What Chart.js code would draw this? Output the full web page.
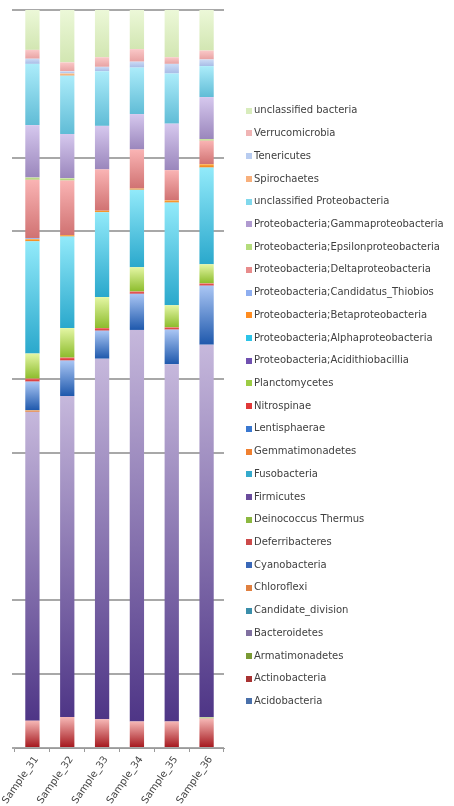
<!DOCTYPE html>
<html>
<head>
<meta charset="utf-8">
<script src="https://cdn.jsdelivr.net/npm/chart.js@4/dist/chart.umd.min.js"></script>
<style>
  html, body { margin: 0; padding: 0; background: #fff; overflow: hidden; }
  #wrap { position: relative; width: 454px; height: 806px; }
  canvas { display: block; }
  #legend {
    position: absolute; left: 246px; top: 99.4px; margin: 0; padding: 0; list-style: none;
    font: 10px 'DejaVu Sans', sans-serif; color: #404040;
  }
  #legend li { height: 22.73px; line-height: 22.73px; white-space: nowrap; display: flex; align-items: center; }
  #legend .sw { display: inline-block; width: 6px; height: 6px; margin-right: 2px; flex: none; }
</style>
</head>
<body>
<div id="wrap">
  <canvas id="c" width="454" height="806"></canvas>
  <ul id="legend"></ul>
</div>
<script>
// Samples on the x axis
const samples = ['Sample_31', 'Sample_32', 'Sample_33', 'Sample_34', 'Sample_35', 'Sample_36'];

// Relative abundance of each taxon (% of reads), one value per sample
const acidobacteria              = [0, 0, 0, 0, 0, 0];
const actinobacteria             = [3.7, 4.2, 3.9, 3.6, 3.6, 4.0];
const armatimonadetes            = [0, 0, 0, 0, 0, 0];
const bacteroidetes              = [0, 0, 0, 0, 0, 0];
const candidateDivision          = [0, 0, 0, 0, 0, 0];
const chloroflexi                = [0, 0, 0, 0, 0, 0];
const cyanobacteria              = [0, 0, 0, 0, 0, 0];
const deferribacteres            = [0, 0, 0, 0, 0, 0];
const deinococcusThermus         = [0, 0, 0, 0, 0, 0.15];
const firmicutes                 = [41.85, 43.5, 48.85, 53.05, 48.4, 50.5];
const fusobacteria               = [0, 0, 0, 0, 0, 0];
const gemmatimonadetes           = [0.2, 0, 0, 0, 0, 0];
const lentisphaerae              = [3.9, 4.8, 3.8, 4.9, 4.7, 8.0];
const nitrospinae                = [0.4, 0.4, 0.35, 0.3, 0.3, 0.3];
const planctomycetes             = [3.4, 4.0, 4.2, 3.3, 3.0, 2.6];
const acidithiobacillia          = [0, 0, 0, 0, 0, 0];
const alphaproteobacteria        = [15.2, 12.4, 11.5, 10.5, 13.9, 13.1];
const betaproteobacteria         = [0.3, 0.2, 0.2, 0.15, 0.3, 0.45];
const candidatusThiobios         = [0.15, 0, 0, 0, 0, 0];
const deltaproteobacteria        = [7.9, 7.4, 5.6, 5.3, 4.1, 3.2];
const epsilonproteobacteria      = [0.3, 0.3, 0, 0, 0, 0.2];
const gammaproteobacteria        = [7.1, 6.0, 5.9, 4.8, 6.3, 5.7];
const unclassifiedProteobacteria = [8.3, 7.9, 7.4, 6.3, 6.8, 4.2];
const spirochaetes               = [0, 0.3, 0, 0, 0, 0];
const tenericutes                = [0.7, 0.3, 0.6, 0.8, 1.3, 0.9];
const verrucomicrobia            = [1.2, 1.2, 1.3, 1.7, 0.9, 1.2];
const unclassifiedBacteria       = [5.4, 7.1, 6.4, 5.3, 6.4, 5.5];

// Y gridlines that are not drawn (percent values)
const hiddenGridValues = [30, 60, 90];

// Fill shades per taxon: [top of segment, bottom of segment, legend swatch]
const shades = {
  'Acidobacteria':                          ['#8aa8d8', '#2e5592', '#4a70aa'],
  'Actinobacteria':                         ['#f6b8b6', '#a3141a', '#a83232'],
  'Armatimonadetes':                        ['#b8d080', '#6a8a22', '#7a9a34'],
  'Bacteroidetes':                          ['#b8a8d0', '#665488', '#8070a0'],
  'Candidate_division':                     ['#70c0d8', '#1e7c98', '#3a8eaa'],
  'Chloroflexi':                            ['#f8b880', '#c86020', '#e08040'],
  'Cyanobacteria':                          ['#8eb0ec', '#2050a0', '#3a68b8'],
  'Deferribacteres':                        ['#f0a0a0', '#b03030', '#cc4a4a'],
  'Deinococcus Thermus':                    ['#c4e08c', '#78a82a', '#8cb840'],
  'Firmicutes':                             ['#c6b8dc', '#4e3586', '#6a4c9c'],
  'Fusobacteria':                           ['#80dcf0', '#1c94b8', '#34aacc'],
  'Gemmatimonadetes':                       ['#ffb060', '#e86c10', '#f08030'],
  'Lentisphaerae':                          ['#aac6f4', '#1e58ac', '#3a78d0'],
  'Nitrospinae':                            ['#f47070', '#d02828', '#e03838'],
  'Planctomycetes':                         ['#e4f6a4', '#8cbc2c', '#9ccc44'],
  'Proteobacteria;Acidithiobacillia':       ['#a888d0', '#5c3c9c', '#7050b0'],
  'Proteobacteria;Alphaproteobacteria':     ['#92eafa', '#2aa8cc', '#2cc4e8'],
  'Proteobacteria;Betaproteobacteria':      ['#ffb048', '#f07c10', '#ff8c20'],
  'Proteobacteria;Candidatus_Thiobios':     ['#b4caf4', '#7e9ee0', '#8eaef0'],
  'Proteobacteria;Deltaproteobacteria':     ['#fab4b4', '#d07272', '#e88c8c'],
  'Proteobacteria;Epsilonproteobacteria':   ['#cce89c', '#a4cc6a', '#b4dc7c'],
  'Proteobacteria;Gammaproteobacteria':     ['#d6c8ee', '#9a86bc', '#b09ad0'],
  'unclassified Proteobacteria':            ['#acecfa', '#60bcd6', '#80d8ec'],
  'Spirochaetes':                           ['#fcc898', '#f0a060', '#f8b07c'],
  'Tenericutes':                            ['#ccdcf6', '#a8bce6', '#b8ccf0'],
  'Verrucomicrobia':                        ['#fac8c8', '#e8a2a2', '#f0b4b4'],
  'unclassified bacteria':                  ['#ecf8d8', '#d2e6b2', '#d8ecbc']
};

// Stack order, bottom to top
const taxa = [
  ['Acidobacteria', acidobacteria],
  ['Actinobacteria', actinobacteria],
  ['Armatimonadetes', armatimonadetes],
  ['Bacteroidetes', bacteroidetes],
  ['Candidate_division', candidateDivision],
  ['Chloroflexi', chloroflexi],
  ['Cyanobacteria', cyanobacteria],
  ['Deferribacteres', deferribacteres],
  ['Deinococcus Thermus', deinococcusThermus],
  ['Firmicutes', firmicutes],
  ['Fusobacteria', fusobacteria],
  ['Gemmatimonadetes', gemmatimonadetes],
  ['Lentisphaerae', lentisphaerae],
  ['Nitrospinae', nitrospinae],
  ['Planctomycetes', planctomycetes],
  ['Proteobacteria;Acidithiobacillia', acidithiobacillia],
  ['Proteobacteria;Alphaproteobacteria', alphaproteobacteria],
  ['Proteobacteria;Betaproteobacteria', betaproteobacteria],
  ['Proteobacteria;Candidatus_Thiobios', candidatusThiobios],
  ['Proteobacteria;Deltaproteobacteria', deltaproteobacteria],
  ['Proteobacteria;Epsilonproteobacteria', epsilonproteobacteria],
  ['Proteobacteria;Gammaproteobacteria', gammaproteobacteria],
  ['unclassified Proteobacteria', unclassifiedProteobacteria],
  ['Spirochaetes', spirochaetes],
  ['Tenericutes', tenericutes],
  ['Verrucomicrobia', verrucomicrobia],
  ['unclassified bacteria', unclassifiedBacteria]
];

// Vertical gradient across each stacked segment, light at the top, deep at the bottom
function segmentFill(ctx) {
  const chart = ctx.chart;
  const ds = chart.data.datasets[ctx.datasetIndex];
  const [light, dark, swatch] = shades[ds.label];
  if (ctx.type !== 'data') return swatch;
  const y = chart.scales.y;
  if (!y) return swatch;
  let base = 0;
  for (let k = 0; k < ctx.datasetIndex; k++) base += chart.data.datasets[k].data[ctx.dataIndex];
  const v = ds.data[ctx.dataIndex];
  const top = y.getPixelForValue(base + v);
  const bottom = y.getPixelForValue(base);
  if (!isFinite(top) || !isFinite(bottom) || bottom - top < 0.5) return swatch;
  const g = chart.ctx.createLinearGradient(0, top, 0, bottom);
  g.addColorStop(0, light);
  g.addColorStop(1, dark);
  return g;
}

const datasets = taxa.map(([name, values]) => ({
  label: name,
  data: values,
  backgroundColor: segmentFill,
  borderWidth: 0,
  categoryPercentage: 1,
  barPercentage: 0.41
}));

// Legend list beside the plot, top entry = top of the stack
const htmlLegend = {
  id: 'htmlLegend',
  afterUpdate(chart) {
    const ul = document.getElementById('legend');
    ul.innerHTML = '';
    const items = Chart.defaults.plugins.legend.labels.generateLabels(chart).reverse();
    items.forEach(item => {
      const li = document.createElement('li');
      const sw = document.createElement('span');
      sw.className = 'sw';
      sw.style.background = shades[chart.data.datasets[item.datasetIndex].label][2];
      li.appendChild(sw);
      li.appendChild(document.createTextNode(item.text));
      ul.appendChild(li);
    });
  }
};

const textFont = { family: 'DejaVu Sans', size: 10 };

new Chart(document.getElementById('c'), {
  type: 'bar',
  data: { labels: samples, datasets },
  plugins: [htmlLegend],
  options: {
    responsive: false,
    animation: false,
    layout: { padding: { left: 12, top: 10, right: 230, bottom: 0 } },
    plugins: {
      tooltip: { enabled: false },
      legend: { display: false }
    },
    scales: {
      x: {
        stacked: true,
        grid: { display: true, offset: true, drawOnChartArea: false, drawTicks: true, tickLength: 4, color: '#9a9a9a' },
        border: { display: true, color: '#9a9a9a', width: 1 },
        ticks: { color: '#444', font: textFont, minRotation: 55, maxRotation: 55, padding: 2, labelOffset: 4 },
        afterFit(scale) {
          scale.paddingLeft = 0;
          scale.height = 58;
        }
      },
      y: {
        stacked: true,
        min: 0,
        max: 100,
        ticks: { display: false, stepSize: 10 },
        grid: {
          drawTicks: true,
          tickLength: 3,
          lineWidth: 2,
          color: (c) => (c.tick && hiddenGridValues.includes(c.tick.value)) ? 'rgba(0,0,0,0)' : '#a8a8a8'
        },
        border: { display: false }
      }
    }
  }
});
</script>
</body>
</html>
